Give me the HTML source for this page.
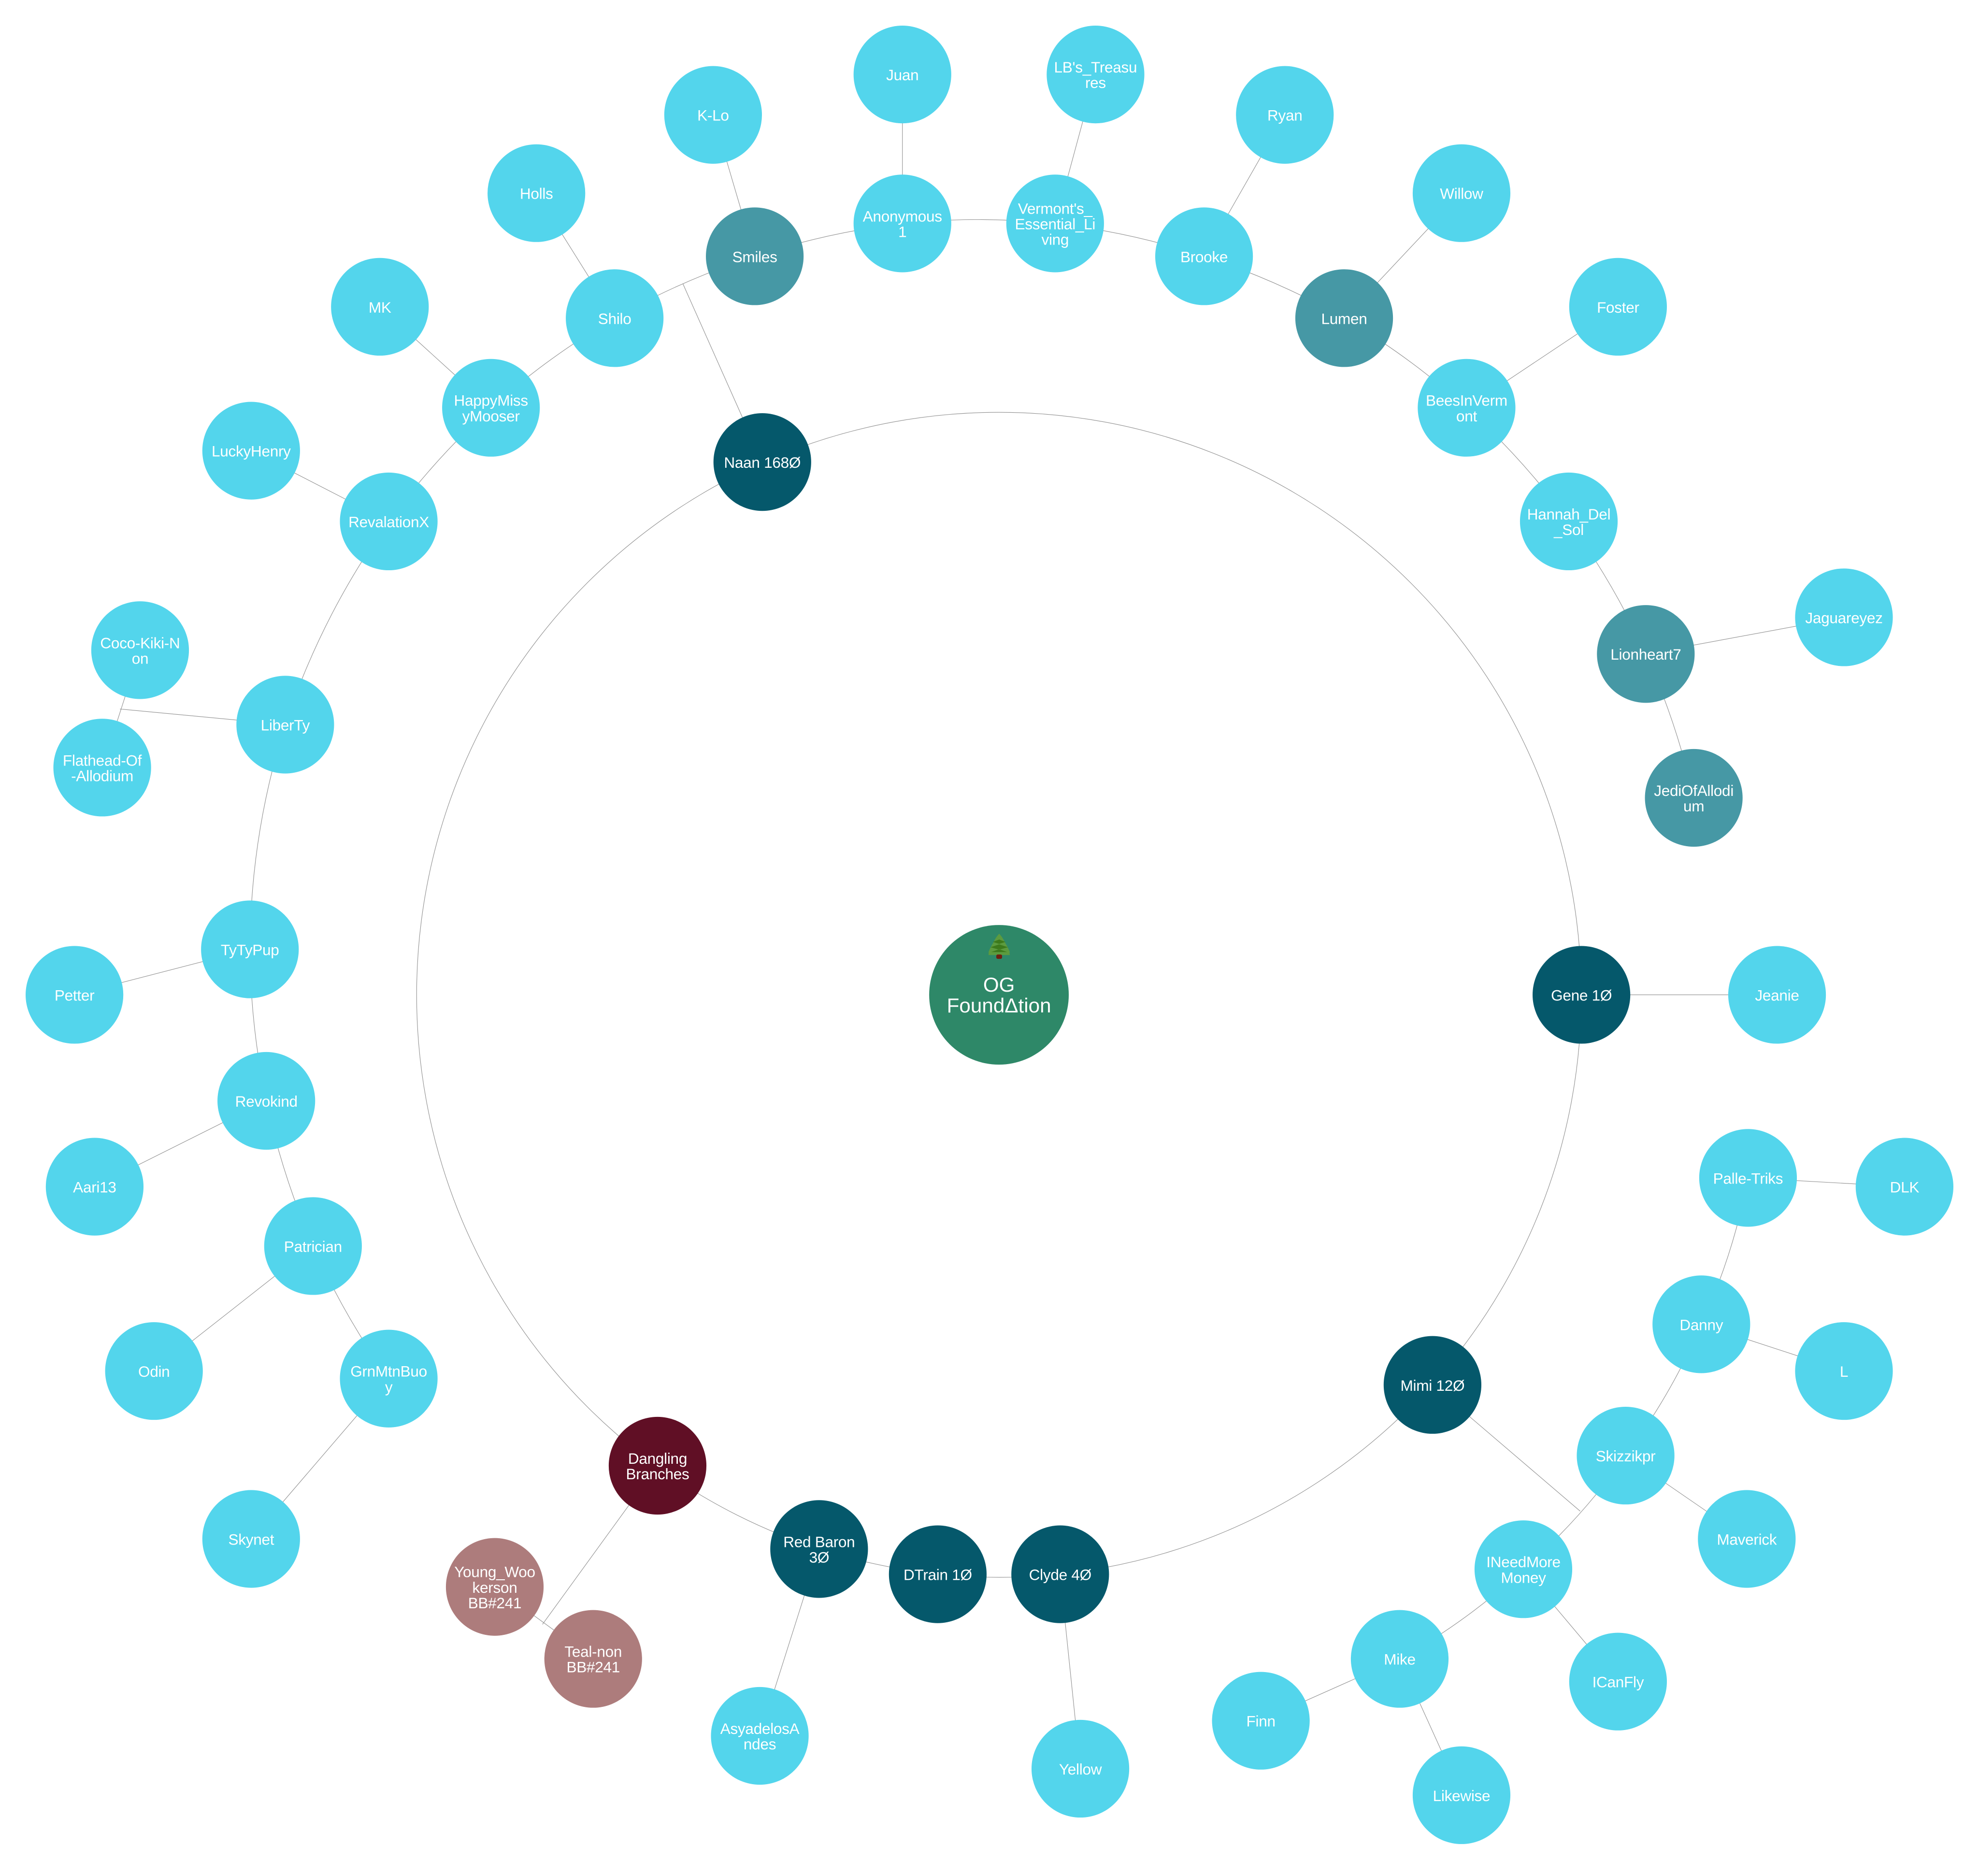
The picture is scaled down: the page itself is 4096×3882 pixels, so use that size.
<!DOCTYPE html>
<html><head><meta charset="utf-8"><title>OG FoundΔtion</title>
<style>
html,body{margin:0;padding:0;background:#fff}
svg{display:block}
text{font-family:"Liberation Sans",sans-serif;font-size:12.1px;fill:#fff;text-anchor:middle;letter-spacing:-.12px}
.l{fill:none;stroke:#8f8f8f;stroke-width:.42}
.a{fill:#53d5ec}.t{fill:#4698a5}.d{fill:#05586b}.m{fill:#600f25}.p{fill:#ad7c7c}
</style></head><body>
<svg xmlns="http://www.w3.org/2000/svg" width="4096" height="3882" viewBox="0 0 1568 1486" preserveAspectRatio="none">
<rect width="1568" height="1486" fill="#fff"/>
<g class="l">
<circle cx="791.5" cy="788" r="461.4"/>
<path d="M308 1092A600 600 0 0 1 248 987A600 600 0 0 1 211 872A600 600 0 0 1 198 752A600 600 0 0 1 226 574A600 600 0 0 1 308 413A600 600 0 0 1 389 323A600 600 0 0 1 487 252A600 600 0 0 1 598 203A600 600 0 0 1 715 177A600 600 0 0 1 836 177A600 600 0 0 1 954 203A600 600 0 0 1 1065 252A600 600 0 0 1 1162 323A600 600 0 0 1 1243 413A600 600 0 0 1 1304 518A600 600 0 0 1 1342 632"/>
<path d="M1385 933A500 500 0 0 1 1348 1049A500 500 0 0 1 1288 1153A500 500 0 0 1 1207 1243A500 500 0 0 1 1109 1314"/>
<path d="M604 366L541 224.6M226 574L95 561.6M111 515L81 608M521 1161L429.8 1286.7M392 1257L470 1314M1135 1097L1252 1197"/>
<path d="M715 177V59M836 177L868 59M598 203L565 91M487 252L425 153M389 323L301 243M308 413L199 357M954 203L1018 91M1065 252L1158 153M1162 323L1282 243M1304 518L1461 489M198 752L59 788M211 872L75 940M248 987L122 1086M308 1092L199 1219M1253 788H1408M840 1247L856 1401M649 1227L602 1375M1385 933L1509 940M1348 1049L1461 1086M1288 1153L1384 1219M1207 1243L1282 1332M1109 1314L999 1363M1109 1314L1158 1422"/>
</g>

<circle cx="791.5" cy="788" r="55.3" fill="#2e8868"/>
<g transform="scale(.38282)">
<path d="M2068 1932C2074 1938 2078 1946 2081 1952C2085 1958 2088 1965 2090 1970C2088 1973 2091 1976 2090 1976L2089 1976L2068 1976L2047 1976C2045 1976 2047 1972 2046 1970C2048 1965 2051 1958 2055 1952C2058 1946 2062 1938 2068 1932Z" fill="#5c9b3f"/>
<path d="M2046 1972H2090L2068 1964ZM2050 1960L2068 1954L2086 1960L2068 1965ZM2055 1949L2068 1944L2081 1949L2068 1953Z" fill="#3d7a1c"/>
<path d="M2047 1970L2089 1970L2090 1976H2046Z" fill="#5c9b3f"/>
<rect x="2062" y="1975" width="12" height="9" rx="3" fill="#6e1f10"/>
</g>
<text x="791.5" y="785.5" style="font-size:16.1px;letter-spacing:0">OG</text>
<text x="791.5" y="802" style="font-size:16.1px;letter-spacing:0" textLength="82.7" lengthAdjust="spacingAndGlyphs">FoundΔtion</text>

<g class="d">
<circle cx="1253" cy="788" r="38.7"/><circle cx="604" cy="366" r="38.7"/><circle cx="1135" cy="1097" r="38.7"/><circle cx="840" cy="1247" r="38.7"/><circle cx="743" cy="1247" r="38.7"/><circle cx="649" cy="1227" r="38.7"/>
</g>
<circle class="m" cx="521" cy="1161" r="38.7"/>
<g class="p"><circle cx="392" cy="1257" r="38.7"/><circle cx="470" cy="1314" r="38.7"/></g>
<g class="t"><circle cx="598" cy="203" r="38.7"/><circle cx="1065" cy="252" r="38.7"/><circle cx="1304" cy="518" r="38.7"/><circle cx="1342" cy="632" r="38.7"/></g>
<g class="a">
<circle cx="1408" cy="788" r="38.7"/><circle cx="602" cy="1375" r="38.7"/><circle cx="856" cy="1401" r="38.7"/>
<circle cx="487" cy="252" r="38.7"/><circle cx="715" cy="177" r="38.7"/><circle cx="836" cy="177" r="38.7"/><circle cx="954" cy="203" r="38.7"/><circle cx="1162" cy="323" r="38.7"/><circle cx="1243" cy="413" r="38.7"/><circle cx="1461" cy="489" r="38.7"/><circle cx="1282" cy="243" r="38.7"/><circle cx="1158" cy="153" r="38.7"/><circle cx="1018" cy="91" r="38.7"/><circle cx="868" cy="59" r="38.7"/><circle cx="715" cy="59" r="38.7"/><circle cx="565" cy="91" r="38.7"/><circle cx="425" cy="153" r="38.7"/><circle cx="301" cy="243" r="38.7"/><circle cx="389" cy="323" r="38.7"/><circle cx="199" cy="357" r="38.7"/><circle cx="308" cy="413" r="38.7"/><circle cx="226" cy="574" r="38.7"/><circle cx="111" cy="515" r="38.7"/><circle cx="81" cy="608" r="38.7"/><circle cx="198" cy="752" r="38.7"/><circle cx="59" cy="788" r="38.7"/><circle cx="211" cy="872" r="38.7"/><circle cx="75" cy="940" r="38.7"/><circle cx="248" cy="987" r="38.7"/><circle cx="122" cy="1086" r="38.7"/><circle cx="308" cy="1092" r="38.7"/><circle cx="199" cy="1219" r="38.7"/>
<circle cx="1385" cy="933" r="38.7"/><circle cx="1509" cy="940" r="38.7"/><circle cx="1348" cy="1049" r="38.7"/><circle cx="1461" cy="1086" r="38.7"/><circle cx="1288" cy="1153" r="38.7"/><circle cx="1384" cy="1219" r="38.7"/><circle cx="1207" cy="1243" r="38.7"/><circle cx="1282" cy="1332" r="38.7"/><circle cx="1109" cy="1314" r="38.7"/><circle cx="999" cy="1363" r="38.7"/><circle cx="1158" cy="1422" r="38.7"/>
</g>

<text x="1253" y="792.6">Gene 1Ø</text>
<text x="1408" y="792.6">Jeanie</text>
<text x="604" y="370.6">Naan 168Ø</text>
<text x="1135" y="1101.6">Mimi 12Ø</text>
<text x="840" y="1251.6">Clyde 4Ø</text>
<text x="743" y="1251.6">DTrain 1Ø</text>
<text x="649" y="1225.45">Red Baron<tspan x="649" dy="12.3">3Ø</tspan></text>
<text x="521" y="1159.45">Dangling<tspan x="521" dy="12.3">Branches</tspan></text>
<text x="392" y="1249.3">Young_Woo<tspan x="392" dy="12.3">kerson</tspan><tspan x="392" dy="12.3">BB#241</tspan></text>
<text x="470" y="1312.45">Teal-non<tspan x="470" dy="12.3">BB#241</tspan></text>
<text x="602" y="1373.45">AsyadelosA<tspan x="602" dy="12.3">ndes</tspan></text>
<text x="856" y="1405.6">Yellow</text>
<text x="598" y="207.6">Smiles</text>
<text x="487" y="256.6">Shilo</text>
<text x="715" y="175.45">Anonymous<tspan x="715" dy="12.3">1</tspan></text>
<text x="836" y="169.3">Vermont's_<tspan x="836" dy="12.3">Essential_Li</tspan><tspan x="836" dy="12.3">ving</tspan></text>
<text x="954" y="207.6">Brooke</text>
<text x="1065" y="256.6">Lumen</text>
<text x="1162" y="321.45">BeesInVerm<tspan x="1162" dy="12.3">ont</tspan></text>
<text x="1243" y="411.45">Hannah_Del<tspan x="1243" dy="12.3">_Sol</tspan></text>
<text x="1304" y="522.6">Lionheart7</text>
<text x="1461" y="493.6">Jaguareyez</text>
<text x="1342" y="630.45">JediOfAllodi<tspan x="1342" dy="12.3">um</tspan></text>
<text x="1282" y="247.6">Foster</text>
<text x="1158" y="157.6">Willow</text>
<text x="1018" y="95.6">Ryan</text>
<text x="868" y="57.45">LB's_Treasu<tspan x="868" dy="12.3">res</tspan></text>
<text x="715" y="63.6">Juan</text>
<text x="565" y="95.6">K-Lo</text>
<text x="425" y="157.6">Holls</text>
<text x="301" y="247.6">MK</text>
<text x="389" y="321.45">HappyMiss<tspan x="389" dy="12.3">yMooser</tspan></text>
<text x="199" y="361.6">LuckyHenry</text>
<text x="308" y="417.6">RevalationX</text>
<text x="226" y="578.6">LiberTy</text>
<text x="111" y="513.45">Coco-Kiki-N<tspan x="111" dy="12.3">on</tspan></text>
<text x="81" y="606.45">Flathead-Of<tspan x="81" dy="12.3">-Allodium</tspan></text>
<text x="198" y="756.6">TyTyPup</text>
<text x="59" y="792.6">Petter</text>
<text x="211" y="876.6">Revokind</text>
<text x="75" y="944.6">Aari13</text>
<text x="248" y="991.6">Patrician</text>
<text x="122" y="1090.6">Odin</text>
<text x="308" y="1090.45">GrnMtnBuo<tspan x="308" dy="12.3">y</tspan></text>
<text x="199" y="1223.6">Skynet</text>
<text x="1385" y="937.6">Palle-Triks</text>
<text x="1509" y="944.6">DLK</text>
<text x="1348" y="1053.6">Danny</text>
<text x="1461" y="1090.6">L</text>
<text x="1288" y="1157.6">Skizzikpr</text>
<text x="1384" y="1223.6">Maverick</text>
<text x="1207" y="1241.45">INeedMore<tspan x="1207" dy="12.3">Money</tspan></text>
<text x="1282" y="1336.6">ICanFly</text>
<text x="1109" y="1318.6">Mike</text>
<text x="999" y="1367.6">Finn</text>
<text x="1158" y="1426.6">Likewise</text>
</svg>
</body></html>
